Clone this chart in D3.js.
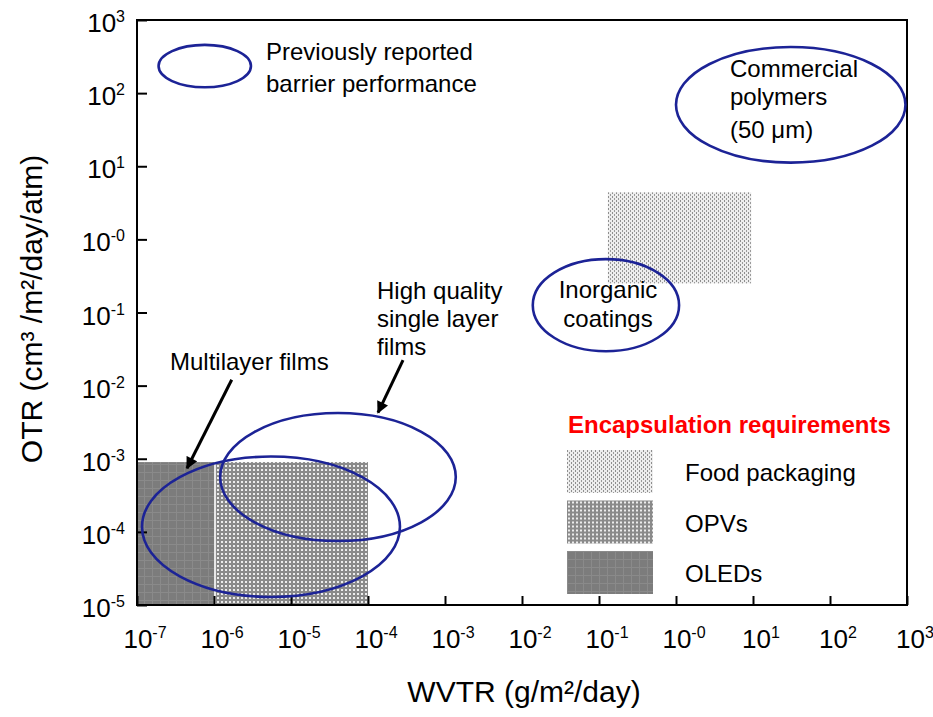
<!DOCTYPE html>
<html>
<head>
<meta charset="utf-8">
<script src="https://cdn.jsdelivr.net/npm/d3@7"></script>
<style>
  body { margin: 0; background: #fff; }
  text { font-family: "Liberation Sans", Arial, Helvetica, sans-serif; fill: #000; }
</style>
</head>
<body>
<div id="chart"></div>
<script>
// axis ticks (decades) and the odd "-0" exponent the figure uses
const xTicks = [1e-7, 1e-6, 1e-5, 1e-4, 1e-3, 1e-2, 1e-1, 1e0, 1e1, 1e2, 1e3];
const xTickExp = ['-7', '-6', '-5', '-4', '-3', '-2', '-1', '-0', '1', '2', '3'];
const yTicks = [1e-5, 1e-4, 1e-3, 1e-2, 1e-1, 1e0, 1e1, 1e2, 1e3];
const yTickExp = ['-5', '-4', '-3', '-2', '-1', '-0', '1', '2', '3'];

// encapsulation requirement boxes: WVTR range, OTR range
const reqNames = ['OLEDs', 'OPVs', 'Food packaging'];
const reqWvtr = [[1e-7, 1e-6], [1e-6, 1e-4], [0.13, 9.5]];
const reqOtr = [[1e-5, 9e-4], [1e-5, 9e-4], [0.25, 4.4]];
const legendOrder = ['Food packaging', 'OPVs', 'OLEDs'];

// reported performance ellipses, centre and half-span in decades (log10)
const ellNames = ['key', 'Commercial polymers', 'Inorganic coatings', 'Multilayer films', 'High quality single layer films'];
const ellLogWvtr = [-6.12, 1.49, -0.91, -5.26, -4.39];
const ellLogOtr = [2.37, 1.84, -0.90, -3.93, -3.25];
const ellSpanWvtr = [0.60, 1.49, 0.95, 1.675, 1.53];
const ellSpanOtr = [0.29, 0.79, 0.63, 0.96, 0.875];

// annotation arrows, log10 from -> to
const arrowFrom = [[-5.77, -1.92], [-3.545, -1.65]];
const arrowTo = [[-6.35, -3.13], [-3.87, -2.37]];

const width = 933, height = 717;
const svg = d3.select('#chart').append('svg')
      .attr('width', width)
      .attr('height', height);

const x = d3.scaleLog().domain([1e-7, 1e3]).range([137, 907]);
const y = d3.scaleLog().domain([1e-5, 1e3]).range([605, 20]);

const defs = svg.append('defs');

const oled = defs.append('pattern').attr('id', 'pat-oled')
      .attr('patternUnits', 'userSpaceOnUse').attr('width', 8).attr('height', 8);
oled.append('rect').attr('width', 8).attr('height', 8).attr('fill', '#7c7c7c');
oled.append('rect').attr('width', 8).attr('height', 1).attr('fill', '#8a8a8a');
oled.append('rect').attr('width', 1).attr('height', 8).attr('fill', '#8a8a8a');

const opv = defs.append('pattern').attr('id', 'pat-opv')
      .attr('patternUnits', 'userSpaceOnUse').attr('width', 4).attr('height', 4);
opv.append('rect').attr('width', 4).attr('height', 4).attr('fill', '#8a8a8a');
opv.append('rect').attr('x', 1).attr('y', 1).attr('width', 2).attr('height', 2).attr('fill', '#ececec');

const food = defs.append('pattern').attr('id', 'pat-food')
      .attr('patternUnits', 'userSpaceOnUse').attr('width', 4).attr('height', 4);
food.append('rect').attr('width', 4).attr('height', 4).attr('fill', '#eeeeee');
food.append('rect').attr('x', 0).attr('y', 0).attr('width', 1).attr('height', 2).attr('fill', '#8e8e8e');
food.append('rect').attr('x', 2).attr('y', 2).attr('width', 1).attr('height', 2).attr('fill', '#9a9a9a');

const patternOf = { 'OLEDs': 'url(#pat-oled)', 'OPVs': 'url(#pat-opv)', 'Food packaging': 'url(#pat-food)' };

// requirement regions
svg.append('g').selectAll('rect')
      .data(reqNames)
      .join('rect')
      .attr('x', (d, i) => x(reqWvtr[i][0]))
      .attr('y', (d, i) => y(reqOtr[i][1]))
      .attr('width', (d, i) => x(reqWvtr[i][1]) - x(reqWvtr[i][0]))
      .attr('height', (d, i) => y(reqOtr[i][0]) - y(reqOtr[i][1]))
      .attr('fill', d => patternOf[d]);

// thin light seam between OLED and OPV boxes
svg.append('line')
      .attr('x1', x(1e-6) + 1).attr('x2', x(1e-6) + 1)
      .attr('y1', y(9e-4)).attr('y2', y(1e-5))
      .attr('stroke', '#e8e8e8').attr('stroke-width', 2);

// axes (inward ticks, labels drawn separately for the superscripts)
svg.append('g')
      .attr('transform', `translate(0,${y(1e-5)})`)
      .call(d3.axisBottom(x).tickValues(xTicks).tickFormat('').tickSizeInner(-9).tickSizeOuter(0))
      .call(g => g.select('.domain').remove())
      .call(g => g.selectAll('line').attr('stroke', '#000').attr('stroke-width', 2));

svg.append('g')
      .attr('transform', `translate(${x(1e-7)},0)`)
      .call(d3.axisLeft(y).tickValues(yTicks).tickFormat('').tickSizeInner(-10).tickSizeOuter(0))
      .call(g => g.select('.domain').remove())
      .call(g => g.selectAll('line').attr('stroke', '#000').attr('stroke-width', 2));

svg.append('rect')
      .attr('x', x(1e-7)).attr('y', y(1e3))
      .attr('width', x(1e3) - x(1e-7))
      .attr('height', y(1e-5) - y(1e3))
      .attr('fill', 'none').attr('stroke', '#000').attr('stroke-width', 2);

const xl = svg.append('g').selectAll('text')
      .data(xTicks)
      .join('text')
      .attr('x', d => x(d) + 8)
      .attr('y', 648)
      .attr('text-anchor', 'middle')
      .attr('font-size', 26);
xl.append('tspan').text('10');
xl.append('tspan').attr('dy', -10).attr('font-size', 16).text((d, i) => xTickExp[i]);

const yl = svg.append('g').selectAll('text')
      .data(yTicks)
      .join('text')
      .attr('x', 125)
      .attr('y', d => y(d) + 12)
      .attr('text-anchor', 'end')
      .attr('font-size', 26);
yl.append('tspan').text('10');
yl.append('tspan').attr('dy', -10).attr('font-size', 16).text((d, i) => yTickExp[i]);

svg.append('text')
      .attr('x', 524).attr('y', 702)
      .attr('text-anchor', 'middle')
      .attr('font-size', 30)
      .text('WVTR (g/m²/day)');

svg.append('text')
      .attr('transform', 'translate(42,309) rotate(-90)')
      .attr('text-anchor', 'middle')
      .attr('font-size', 30)
      .text('OTR (cm³ /m²/day/atm)');

// ellipses
svg.append('g').selectAll('ellipse')
      .data(ellNames)
      .join('ellipse')
      .attr('cx', (d, i) => x(Math.pow(10, ellLogWvtr[i])))
      .attr('cy', (d, i) => y(Math.pow(10, ellLogOtr[i])))
      .attr('rx', (d, i) => x(Math.pow(10, ellLogWvtr[i] + ellSpanWvtr[i])) - x(Math.pow(10, ellLogWvtr[i])))
      .attr('ry', (d, i) => y(Math.pow(10, ellLogOtr[i])) - y(Math.pow(10, ellLogOtr[i] + ellSpanOtr[i])))
      .attr('fill', 'none')
      .attr('stroke', '#1c2396')
      .attr('stroke-width', 2.6);

// arrows
defs.append('marker')
      .attr('id', 'head')
      .attr('viewBox', '0 0 10 10')
      .attr('refX', 9).attr('refY', 5)
      .attr('markerWidth', 4.5).attr('markerHeight', 4)
      .attr('markerUnits', 'strokeWidth')
      .attr('orient', 'auto')
      .append('path').attr('d', 'M0,0 L10,5 L0,10 z').attr('fill', '#000');

svg.append('g').selectAll('line')
      .data(arrowFrom)
      .join('line')
      .attr('x1', d => x(Math.pow(10, d[0])))
      .attr('y1', d => y(Math.pow(10, d[1])))
      .attr('x2', (d, i) => x(Math.pow(10, arrowTo[i][0])))
      .attr('y2', (d, i) => y(Math.pow(10, arrowTo[i][1])))
      .attr('stroke', '#000')
      .attr('stroke-width', 3)
      .attr('marker-end', 'url(#head)');

// annotation text
function label(lines, x0, ys, anchor) {
      const t = svg.append('text').attr('font-size', 24).attr('text-anchor', anchor || 'start');
      lines.forEach((s, i) => t.append('tspan').attr('x', x0).attr('y', ys[i]).text(s));
}
label(['Previously reported', 'barrier performance'], 266, [60, 92]);
label(['Commercial', 'polymers', '(50 μm)'], 730, [77, 105, 138]);
label(['Inorganic', 'coatings'], 608, [298, 327], 'middle');
label(['Multilayer films'], 170, [370]);
label(['High quality', 'single layer', 'films'], 377, [299, 327, 355]);

// legend
svg.append('text')
      .attr('x', 568).attr('y', 433)
      .attr('font-size', 24)
      .attr('font-weight', 'bold')
      .style('fill', '#ff0000')
      .text('Encapsulation requirements');

const lg = svg.append('g').selectAll('g')
      .data(legendOrder)
      .join('g')
      .attr('transform', (d, i) => `translate(567,${450 + i * 50.5})`);
lg.append('rect')
      .attr('width', 86).attr('height', 43)
      .attr('fill', d => patternOf[d]);
lg.append('text')
      .attr('x', 118).attr('y', 31)
      .attr('font-size', 24)
      .text(d => d);
</script>
</body>
</html>
